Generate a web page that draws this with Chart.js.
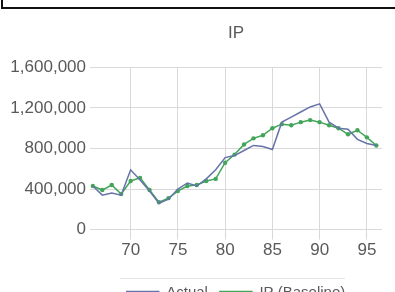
<!DOCTYPE html>
<html>
<head>
<meta charset="utf-8">
<script src="https://cdn.jsdelivr.net/npm/chart.js@4/dist/chart.umd.min.js"></script>
<style>
  html, body { margin: 0; padding: 0; background: #fff; overflow: hidden; width: 395px; height: 292px; }
  #wrap { position: relative; width: 395px; height: 310px; }
  #topbox { position: absolute; left: 1px; top: -4px; width: 400px; height: 13px; border: 2px solid #111; box-sizing: border-box; }
  #sep { position: absolute; left: 120px; top: 278px; width: 225px; height: 0; border-top: 1px solid #e6e6e6; }
</style>
</head>
<body>
<div id="wrap">
  <canvas id="c" width="395" height="310"></canvas>
  <div id="topbox"></div>
  <div id="sep"></div>
</div>
<script>
const years = [66,67,68,69,70,71,72,73,74,75,76,77,78,79,80,81,82,83,84,85,86,87,88,89,90,91,92,93,94,95,96];
const actual = [430000,340000,360000,340000,590000,490000,380000,260000,300000,400000,460000,430000,500000,590000,710000,730000,780000,830000,820000,790000,1060000,1110000,1160000,1210000,1240000,1060000,1000000,990000,890000,850000,830000];
const ipBaseline = [430000,390000,440000,350000,480000,510000,390000,270000,310000,380000,430000,440000,480000,500000,660000,740000,840000,900000,930000,1000000,1040000,1030000,1060000,1080000,1060000,1030000,1000000,940000,980000,910000,830000];
const xTicks = [70,75,80,85,90,95];
const yTicks = [0,400000,800000,1200000,1600000];

const textColor = '#595959';
const gridColor = '#d9d9d9';
const fontFam = '"Liberation Sans", Arial, sans-serif';

new Chart(document.getElementById('c'), {
  type: 'line',
  data: {
    datasets: [
      {
        label: 'Actual',
        data: years.map((y, i) => ({ x: y, y: actual[i] })),
        borderColor: '#6673a8',
        backgroundColor: '#6673a8',
        borderWidth: 1.5,
        pointRadius: 0,
        tension: 0,
        order: 1
      },
      {
        label: 'IP (Baseline)',
        data: years.map((y, i) => ({ x: y, y: ipBaseline[i] })),
        borderColor: '#42a55a',
        backgroundColor: '#42a55a',
        borderWidth: 1.5,
        pointRadius: 2.2,
        pointBorderWidth: 0,
        tension: 0,
        order: 2
      }
    ]
  },
  options: {
    responsive: false,
    animation: false,
    layout: { padding: { left: 0, right: 13, top: 0, bottom: 0 } },
    plugins: {
      title: {
        display: true,
        text: 'IP',
        color: textColor,
        fullSize: false,
        font: { family: fontFam, size: 17, weight: 'normal' },
        padding: { top: 23, bottom: 24 }
      },
      legend: {
        display: true,
        position: 'bottom',
        fullSize: false,
        labels: {
          color: textColor,
          font: { family: fontFam, size: 15 },
          boxWidth: 32,
          boxHeight: 2,
          padding: 12
        }
      },
      tooltip: { enabled: false }
    },
    scales: {
      x: {
        type: 'linear',
        min: 65.7,
        max: 96.6,
        afterBuildTicks: (axis) => { axis.ticks = xTicks.map(v => ({ value: v })); },
        afterFit: (axis) => { axis.height = axis.height + 11; },
        ticks: {
          color: textColor,
          font: { family: fontFam, size: 17 },
          padding: 1,
          maxRotation: 0,
          callback: (v) => String(v)
        },
        grid: { color: gridColor, drawTicks: true, tickLength: 10, tickColor: gridColor },
        border: { display: false }
      },
      y: {
        min: 0,
        max: 1600000,
        afterBuildTicks: (axis) => { axis.ticks = yTicks.map(v => ({ value: v })); },
        afterFit: (axis) => { axis.width = 90; },
        ticks: {
          color: textColor,
          font: { family: fontFam, size: 17 },
          padding: 4,
          callback: (v) => v.toLocaleString('en-US')
        },
        grid: { color: gridColor, drawTicks: false },
        border: { display: false }
      }
    }
  }
});
</script>
</body>
</html>
